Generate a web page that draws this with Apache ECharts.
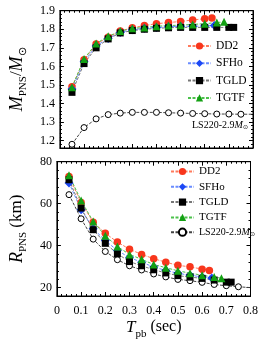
<!DOCTYPE html>
<html><head><meta charset="utf-8">
<script src="https://cdn.jsdelivr.net/npm/echarts@6/dist/echarts.min.js"></script>
<style>html,body{margin:0;padding:0;background:#fff}#c{width:261px;height:341px}</style>
</head><body><div id="c"></div>
<script>
const xDD2 = [0.05,0.1,0.15,0.2,0.25,0.3,0.35,0.4,0.45,0.5,0.55,0.6,0.63];
const mDD2 = [1.49,1.635,1.72,1.757,1.79,1.808,1.82,1.83,1.836,1.842,1.85,1.857,1.86];
const rDD2 = [73.0,60.5,51.2,45.9,41.7,38.3,35.8,33.8,32.1,30.6,29.9,28.8,28.2];

const xSFHo = [0.05,0.1,0.15,0.2,0.25,0.3,0.35,0.4,0.45,0.5,0.55,0.6,0.64];
const mSFHo = [1.478,1.625,1.71,1.75,1.783,1.798,1.805,1.809,1.813,1.816,1.816,1.818,1.82];
const rSFHo = [69.9,57.1,48.1,42.4,37.7,34.3,32.1,29.8,28.2,26.8,25.9,25.1,24.6];

const xTGLD = [0.05,0.1,0.15,0.2,0.25,0.3,0.35,0.4,0.45,0.5,0.55,0.6,0.65,0.7,0.72];
const mTGLD = [1.46,1.615,1.70,1.748,1.78,1.793,1.80,1.805,1.808,1.81,1.81,1.81,1.81,1.81,1.81];
const rTGLD = [71.4,57.9,47.6,41.1,36.1,32.4,30.4,28.5,27.0,25.7,25.0,24.4,23.6,22.6,22.6];

const xTGTF = [0.05,0.1,0.15,0.2,0.25,0.3,0.35,0.4,0.45,0.5,0.55,0.6,0.65,0.68];
const mTGTF = [1.487,1.64,1.723,1.762,1.79,1.805,1.81,1.816,1.82,1.822,1.826,1.83,1.836,1.84];
const rTGTF = [73.6,61.5,51.5,44.7,39.6,35.8,33.5,31.0,29.5,28.0,26.9,25.9,25.0,24.5];

const xLS = [0.05,0.1,0.15,0.2,0.25,0.3,0.35,0.4,0.45,0.5,0.55,0.6,0.65,0.7,0.75,0.8];
const mLS = [1.18,1.27,1.317,1.34,1.348,1.352,1.352,1.352,1.35,1.348,1.346,1.345,1.343,1.343,1.342,1.342];
const rLS = [64.3,52.8,43.1,37.2,33.3,30.4,28.4,26.5,25.1,23.9,23.3,22.5,21.5,20.9,20.4,20.0];

const xTicks = [0,0.1,0.2,0.3,0.4,0.5,0.6,0.7,0.8];
const mTicks = [1.2,1.3,1.4,1.5,1.6,1.7,1.8,1.9];
const rTicks = [20,40,60,80];

const FONT = 'Liberation Serif';
function pts(xs, ys, lastNone) {
  return xs.map((x, i) => {
    const d = { value: [x, ys[i]] };
    if (lastNone && i === xs.length - 1) d.symbol = 'none';
    return d;
  });
}
const specs = [
  { name: 'DD2', xs: xDD2, m: mDD2, r: rDD2, color: '#f8361c', line: '#ff7a5c', symbol: 'circle', size: 7.5 },
  { name: 'SFHo', xs: xSFHo, m: mSFHo, r: rSFHo, color: '#1c48f5', line: '#6a8cff', symbol: 'diamond', size: 9 },
  { name: 'TGLD', xs: xTGLD, m: mTGLD, r: rTGLD, color: '#000000', line: '#777777', symbol: 'rect', size: 7 },
  { name: 'TGTF', xs: xTGTF, m: mTGTF, r: rTGTF, color: '#13a013', line: '#4cc24c', symbol: 'triangle', size: 8 }
];
const series = [];
specs.forEach(s => {
  [[0, s.m], [1, s.r]].forEach(([g, ys]) => {
    series.push({
      type: 'line', name: s.name, xAxisIndex: g * 2, yAxisIndex: g * 4,
      data: pts(s.xs, ys), symbol: s.symbol, symbolSize: s.size,
      itemStyle: { color: s.color }, lineStyle: { color: s.line, width: 1, type: [3, 1.5] },
      animation: false, z: 3
    });
  });
});
const lsName = 'LS220-2.9M';
[[0, mLS], [1, rLS]].forEach(([g, ys]) => {
  series.push({
    type: 'line', name: g === 0 ? 'LS220top' : lsName, xAxisIndex: g * 2, yAxisIndex: g * 4,
    data: pts(xLS, ys, true), symbol: 'circle', symbolSize: 6,
    itemStyle: { color: '#fff', borderColor: '#000', borderWidth: 1 },
    lineStyle: { color: '#444', width: 1, type: [3, 1.5] }, animation: false, z: 2
  });
});

const grids = [
  { left: 45.5, right: 8, top: 10.7, height: 137.3, show: true, borderColor: '#000', borderWidth: 1 },
  { left: 45.5, right: 8, top: 161.7, height: 135, show: true, borderColor: '#000', borderWidth: 1 }
];
function xax(g, pos, labels) {
  return {
    type: 'value', gridIndex: g, position: pos, min: 0, max: 0.8, interval: 0.1,
    axisLine: { show: true, lineStyle: { color: '#000' } },
    axisTick: { show: true, inside: true, length: 4, lineStyle: { color: '#000' } },
    minorTick: { show: true, splitNumber: 5, length: 2, lineStyle: { color: '#000' } },
    splitLine: { show: false },
    axisLabel: labels ? { show: true, fontFamily: FONT, fontSize: 12, color: '#000', margin: 9,
      formatter: v => { const k = xTicks.find(t => Math.abs(t - v) < 1e-6); return k === undefined ? '' : String(+k.toFixed(1)); } } : { show: false },
    name: labels ? '{i|T}{s|pb}{n| (sec)}' : '', nameLocation: 'middle', nameGap: 23,
    nameTextStyle: { fontFamily: FONT, color: '#000', rich: {
      i: { fontFamily: FONT, fontStyle: 'italic', fontSize: 17, lineHeight: 18, verticalAlign: 'top' },
      s: { fontFamily: FONT, fontSize: 11, lineHeight: 11, padding: [10, 0, 0, 0], verticalAlign: 'top' },
      n: { fontFamily: FONT, fontSize: 16, lineHeight: 18, verticalAlign: 'top' } } }
  };
}
function yMajor(g, pos, min, max, ticks, labels, name, decimals) {
  return {
    type: 'value', gridIndex: g, position: pos, min: min, max: max,
    axisLine: { show: true, lineStyle: { color: '#000' } },
    axisTick: { show: true, inside: true, length: 4, customValues: ticks, lineStyle: { color: '#000' } },
    minorTick: { show: false }, splitLine: { show: false },
    axisLabel: labels ? { show: true, customValues: ticks, fontFamily: FONT, fontSize: 12, color: '#000', margin: 5,
      formatter: v => v.toFixed(decimals) } : { show: false },
    name: name || '', nameLocation: 'middle', nameGap: 27, nameRotate: 90,
    nameTextStyle: { fontFamily: FONT, color: '#000', rich: {
      i: { fontFamily: FONT, fontStyle: 'italic', fontSize: 18, lineHeight: 19, verticalAlign: 'top' },
      s: { fontFamily: FONT, fontSize: 11, lineHeight: 11, padding: [10, 0, 0, 0], verticalAlign: 'top' },
      n: { fontFamily: FONT, fontSize: 17, lineHeight: 19, verticalAlign: 'top' } } }
  };
}
function yMinor(g, pos, min, max, step) {
  return {
    type: 'value', gridIndex: g, position: pos, min: min, max: max, interval: step, offset: 0,
    axisLine: { show: false },
    axisTick: { show: true, inside: true, length: 2, lineStyle: { color: '#000' } },
    minorTick: { show: false }, splitLine: { show: false }, axisLabel: { show: false }
  };
}
const lsRich = {
  n: { fontFamily: FONT, fontSize: 10 }, i: { fontFamily: FONT, fontSize: 10, fontStyle: 'italic' },
  s: { fontFamily: FONT, fontSize: 6, padding: [5, 0, 0, 0] }, t: { fontFamily: FONT, fontSize: 11 }
};
const option = {
  backgroundColor: '#fff',
  animation: false,
  grid: grids,
  xAxis: [xax(0, 'bottom', false), xax(0, 'top', false), xax(1, 'bottom', true), xax(1, 'top', false)],
  yAxis: [
    yMajor(0, 'left', 1.16, 1.9, mTicks, true, '{i|M}{s|PNS}{n|/}{i|M}{s|⊙}', 1),
    yMinor(0, 'left', 1.16, 1.9, 0.02),
    yMajor(0, 'right', 1.16, 1.9, mTicks, false),
    yMinor(0, 'right', 1.16, 1.9, 0.02),
    yMajor(1, 'left', 16, 80, rTicks, true, '{i|R}{s|PNS}{n| (km)}', 0),
    yMinor(1, 'left', 16, 80, 4),
    yMajor(1, 'right', 16, 80, rTicks, false),
    yMinor(1, 'right', 16, 80, 4)
  ],
  legend: [
    { data: ['DD2', 'SFHo', 'TGLD', 'TGTF'], orient: 'vertical', left: 182, top: 35, itemWidth: 23, itemHeight: 9, itemGap: 5.3,
      textStyle: { fontFamily: FONT, fontSize: 11.5, color: '#000' }, selectedMode: false },
    { data: ['DD2', 'SFHo', 'TGLD', 'TGTF', lsName], orient: 'vertical', left: 165, top: 161, itemWidth: 23, itemHeight: 9, itemGap: 4.3,
      textStyle: { fontFamily: FONT, fontSize: 11, color: '#000', rich: lsRich },
      formatter: n => n === lsName ? '{n|LS220-2.9}{i|M}{s|⊙}' : '{t|' + n + '}', selectedMode: false }
  ],
  graphic: [
    { type: 'text', left: 192, top: 120, style: { text: '{n|LS220-2.9}{i|M}{s|⊙}', fill: '#000', rich: lsRich } }
  ],
  series: series
};
const chart = echarts.init(document.getElementById('c'), null, { renderer: 'canvas' });
chart.setOption(option);
</script></body></html>
